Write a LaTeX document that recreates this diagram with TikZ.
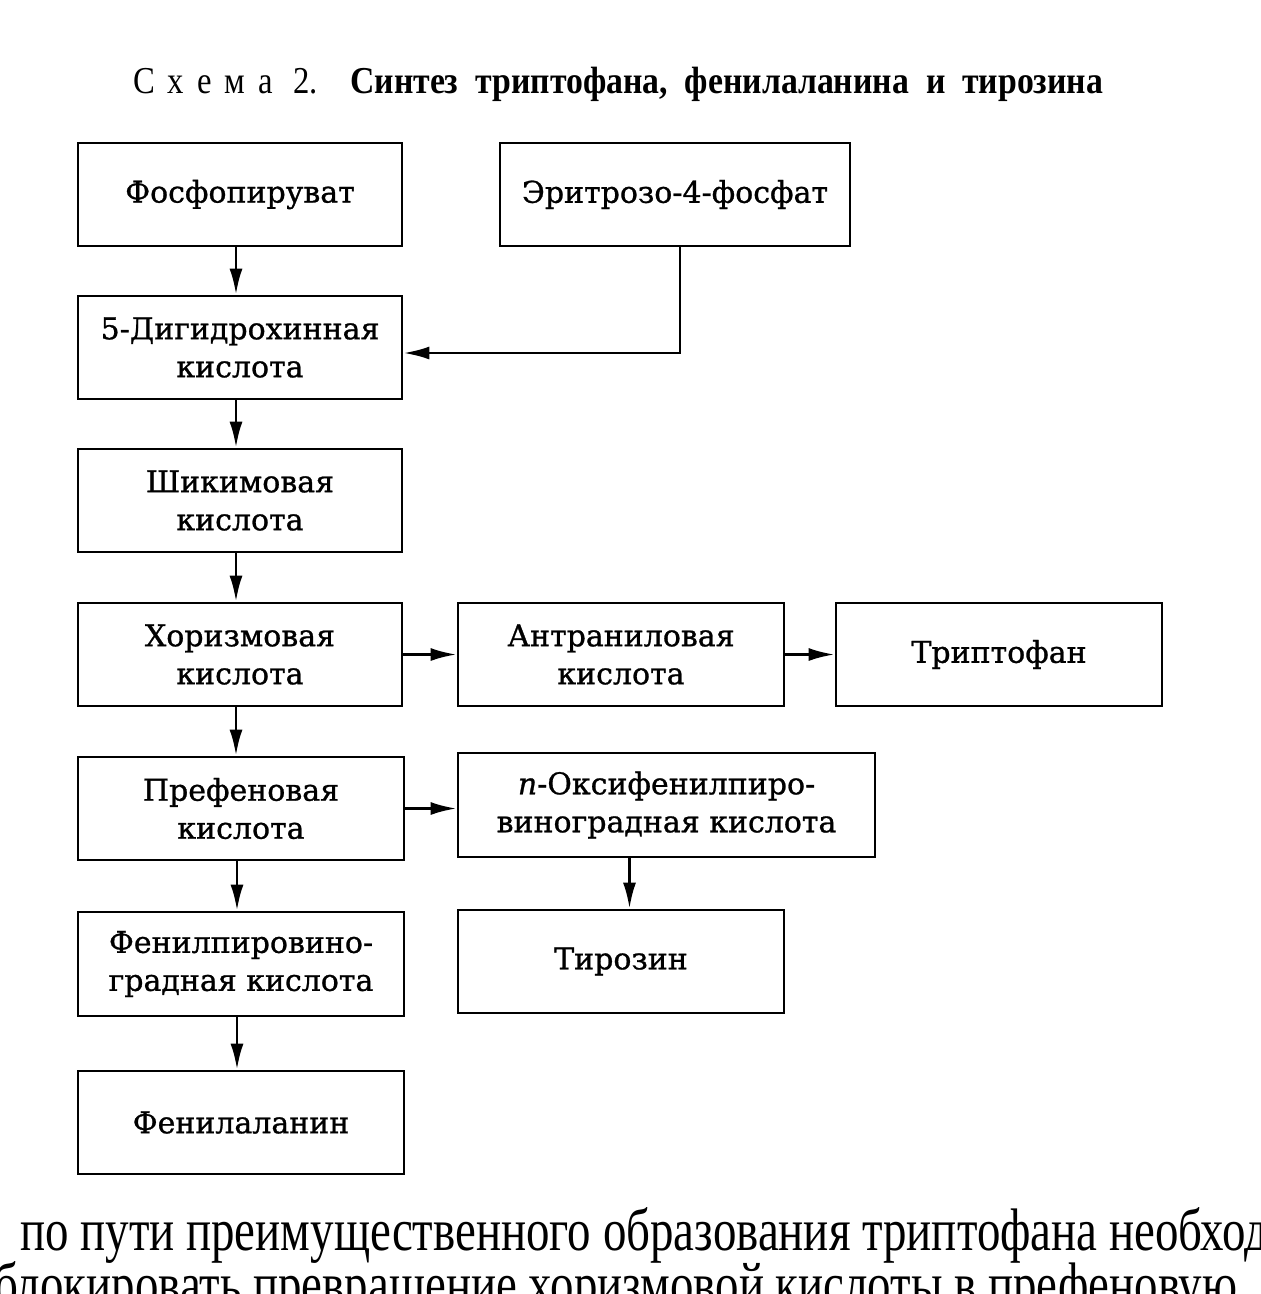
\documentclass[tikz,border=0pt]{standalone}
\usepackage{fontspec}
\setmainfont{DejaVu Serif}[FakeBold=0.9]
\newfontfamily\titlefont[FakeStretch=0.86]{Liberation Serif}
\newfontfamily\titleboldfont[FakeStretch=0.888]{Liberation Serif Bold}
\newfontfamily\bodyfont[FakeStretch=0.782]{Liberation Serif}
\usetikzlibrary{arrows.meta}
\tikzset{
  box/.style={draw, line width=2.8pt, align=center, inner sep=0pt,
    minimum width=326pt, minimum height=103pt,
    font=\fontsize{30}{38}\selectfont},
  arr/.style={line width=2.8pt, -{Latex[length=26pt,width=13pt]}},
}
\begin{document}
\begin{tikzpicture}[x=1pt,y=-1pt]
\useasboundingbox[fill=white] (0,0) rectangle (1261,1294);
% title
\node[anchor=base west, inner sep=0pt, font=\fontsize{38}{40}\selectfont\titlefont] (title1) at (133,93)
  {С\hspace{13pt}х\hspace{13pt}е\hspace{13pt}м\hspace{13pt}а\hspace{20pt}2.};
\node[anchor=base west, inner sep=0pt, font=\fontsize{38}{40}\selectfont\titleboldfont] (title2) at (350,93)
  {Синтез\ \ триптофана,\ \ фенилаланина\ \ и\ \ тирозина};
% boxes
\node[box, minimum width=324pt] (fosfo) at (240,194.5) {Фосфопируват};
\node[box, minimum width=350pt] (eritr) at (675,194.5) {Эритрозо-4-фосфат};
\node[box, minimum width=324pt] (dig) at (240,347.5) {5-Дигидрохинная\\кислота};
\node[box, minimum width=324pt] (shik) at (240,500.5) {Шикимовая\\кислота};
\node[box, minimum width=324pt] (hor) at (240,654.5) {Хоризмовая\\кислота};
\node[box] (antr) at (621,654.5) {Антраниловая\\кислота};
\node[box] (trip) at (999,654.5) {Триптофан};
\node[box] (pref) at (241,808.5) {Префеновая\\кислота};
\node[box, minimum width=417pt, minimum height=104pt] (oksi) at (666.5,805) {\textit{п}-Оксифенилпиро-\\виноградная кислота};
\node[box, minimum height=104pt] (fenpir) at (241,964) {Фенилпировино-\\градная кислота};
\node[box] (tyr) at (621,961.5) {Тирозин};
\node[box] (fenal) at (241,1122.5) {Фенилаланин};
% arrows
\draw[arr] ([xshift=-4pt]fosfo.south) -- ([xshift=-4pt]fosfo.south |- dig.north);
\draw[arr] ([xshift=-4pt]dig.south) -- ([xshift=-4pt]dig.south |- shik.north);
\draw[arr] ([xshift=-4pt]shik.south) -- ([xshift=-4pt]shik.south |- hor.north);
\draw[arr] ([xshift=-4pt]hor.south) -- ([xshift=-4pt]hor.south |- pref.north);
\draw[arr] ([xshift=-4pt]pref.south) -- ([xshift=-4pt]pref.south |- fenpir.north);
\draw[arr] ([xshift=-4pt]fenpir.south) -- ([xshift=-4pt]fenpir.south |- fenal.north);
\draw[arr] ([xshift=5pt]eritr.south) |- ([yshift=-5.5pt]dig.east);
\draw[arr] (hor.east) -- (antr.west);
\draw[arr] (antr.east) -- (trip.west);
\draw[arr] (pref.east) -- (pref.east -| oksi.west);
\draw[arr] ([xshift=-37pt]oksi.south) -- ([xshift=-37pt]oksi.south |- tyr.north);
% text below
\node[anchor=base west, inner sep=0pt, font=\fontsize{60}{70}\selectfont\bodyfont] (body1) at (20,1250)
  {по пути преимущественного образования триптофана необходимо};
\node[anchor=base west, inner sep=0pt, font=\fontsize{60}{70}\selectfont\bodyfont] (body2) at (-6,1304)
  {блокировать превращение хоризмовой кислоты в префеновую};
\end{tikzpicture}
\end{document}
